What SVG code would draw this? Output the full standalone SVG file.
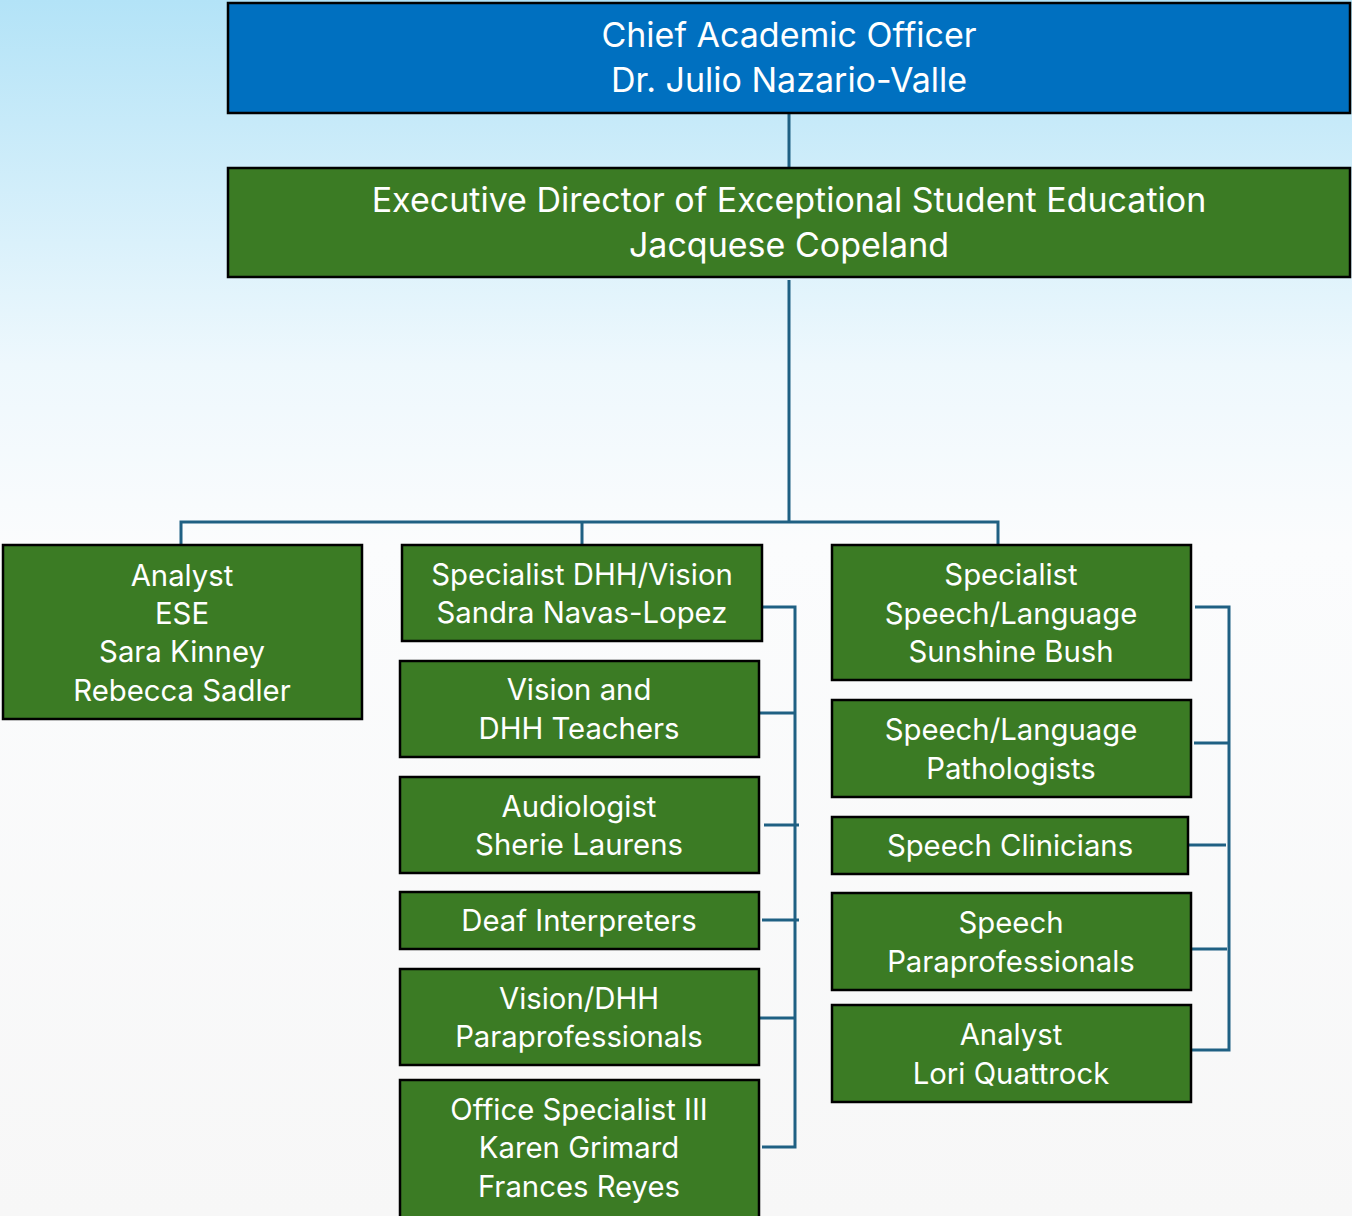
<svg xmlns="http://www.w3.org/2000/svg" width="1352" height="1216" viewBox="0 0 1352 1216">
<defs>
<linearGradient id="bg" x1="0" y1="0" x2="0" y2="1">
<stop offset="0" stop-color="#b3e3f7"/>
<stop offset="0.3" stop-color="#eef8fd"/>
<stop offset="0.45" stop-color="#fbfcfd"/>
<stop offset="1" stop-color="#f7f7f7"/>
</linearGradient>
<style>
.b{fill:#0070c0;stroke:#000;stroke-width:2.5}
.g{fill:#3b7b24;stroke:#000;stroke-width:2.5}
.t{font-family:Inter,"Open Sans",sans-serif;fill:#fff;text-anchor:middle}
.big{font-size:34px}
.sm{font-size:29.3px}
.c{stroke:#1f6083;stroke-width:3;fill:none}
</style>
</defs>
<rect width="1352" height="1216" fill="url(#bg)"/>
<g id="connectors">
<path class="c" d="M789 113V168M789 280V523M181 545V522H998V545M582 522V545"/>
<path class="c" d="M762 607H795V1147H762M757 713H795M764 825H799M762 920H799M760 1018H795"/>
<path class="c" d="M1195 607H1229V1050H1192M1194 743H1229M1189 845H1226M1192 949H1227"/>
</g>
<g id="cao"><rect class="b" x="228" y="3" width="1122" height="110"/>
<text class="t big" x="789" y="47">Chief Academic Officer</text><text class="t big" x="789" y="92">Dr. Julio Nazario-Valle</text></g>
<g id="ed"><rect class="g" x="228" y="168" width="1122" height="109"/>
<text class="t big" x="789" y="212">Executive Director of Exceptional Student Education</text><text class="t big" x="789" y="257">Jacquese Copeland</text></g>
<g id="analyst-ese"><rect class="g" x="3" y="545" width="359" height="174"/>
<text class="t sm" x="182" y="586">Analyst</text><text class="t sm" x="182" y="624">ESE</text><text class="t sm" x="182" y="662">Sara Kinney</text><text class="t sm" x="182" y="701">Rebecca Sadler</text></g>
<g id="spec-dhh"><rect class="g" x="402" y="545" width="360" height="96"/>
<text class="t sm" x="582" y="585">Specialist DHH/Vision</text><text class="t sm" x="582" y="623">Sandra Navas-Lopez</text></g>
<g id="vision-teachers"><rect class="g" x="400" y="661" width="359" height="96"/>
<text class="t sm" x="579" y="700">Vision and</text><text class="t sm" x="579" y="739">DHH Teachers</text></g>
<g id="audiologist"><rect class="g" x="400" y="777" width="359" height="96"/>
<text class="t sm" x="579" y="817">Audiologist</text><text class="t sm" x="579" y="855">Sherie Laurens</text></g>
<g id="deaf-interp"><rect class="g" x="400" y="892" width="359" height="57"/>
<text class="t sm" x="579" y="931">Deaf Interpreters</text></g>
<g id="vision-para"><rect class="g" x="400" y="969" width="359" height="96"/>
<text class="t sm" x="579" y="1009">Vision/DHH</text><text class="t sm" x="579" y="1047">Paraprofessionals</text></g>
<g id="office-spec"><rect class="g" x="400" y="1080" width="359" height="140"/>
<text class="t sm" x="579" y="1120">Office Specialist III</text><text class="t sm" x="579" y="1158">Karen Grimard</text><text class="t sm" x="579" y="1197">Frances Reyes</text></g>
<g id="spec-speech"><rect class="g" x="832" y="545" width="359" height="135"/>
<text class="t sm" x="1011" y="585">Specialist</text><text class="t sm" x="1011" y="624">Speech/Language</text><text class="t sm" x="1011" y="662">Sunshine Bush</text></g>
<g id="slp"><rect class="g" x="832" y="700" width="359" height="97"/>
<text class="t sm" x="1011" y="740">Speech/Language</text><text class="t sm" x="1011" y="779">Pathologists</text></g>
<g id="clinicians"><rect class="g" x="832" y="817" width="356" height="57"/>
<text class="t sm" x="1010" y="856">Speech Clinicians</text></g>
<g id="speech-para"><rect class="g" x="832" y="893" width="359" height="97"/>
<text class="t sm" x="1011" y="933">Speech</text><text class="t sm" x="1011" y="972">Paraprofessionals</text></g>
<g id="analyst-lori"><rect class="g" x="832" y="1005" width="359" height="97"/>
<text class="t sm" x="1011" y="1045">Analyst</text><text class="t sm" x="1011" y="1084">Lori Quattrock</text></g>
</svg>
